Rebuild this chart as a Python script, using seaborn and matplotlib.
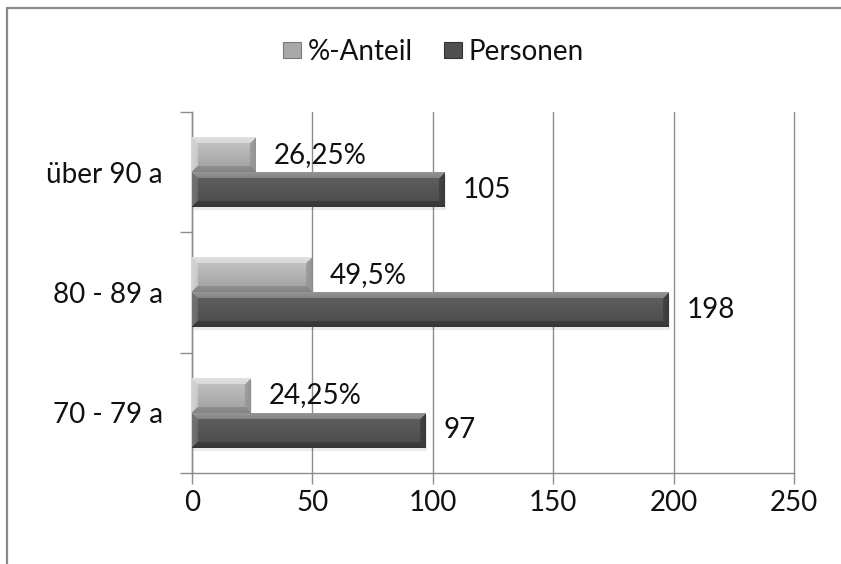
import numpy as np
import pandas as pd
import seaborn as sns
import matplotlib.pyplot as plt
from matplotlib.lines import Line2D
from matplotlib.patches import Patch

sns.set_theme(style="white")
plt.rcParams['font.family'] = ['Lato', 'DejaVu Sans']

# Data (top to bottom as displayed)
categories = ["über 90 a", "80 - 89 a", "70 - 79 a"]
series = ["%-Anteil", "Personen"]
anteil = [26.25, 49.5, 24.25]
personen = [105, 198, 97]
anteil_text = ["26,25%", "49,5%", "24,25%"]
personen_text = ["105", "198", "97"]
x_ticks = [0, 50, 100, 150, 200, 250]

df = pd.DataFrame({
    "Altersgruppe": categories * 2,
    "Wert": anteil + personen,
    "Reihe": [series[0]] * len(categories) + [series[1]] * len(categories),
})

W, H = 841, 564
fig = plt.figure(figsize=(W / 100, H / 100), dpi=100)
ax = fig.add_axes([192 / W, 1 - 473 / H, 602 / W, 361 / H])

base_colors = ["#a9a9a9", "#555555"]
sns.barplot(data=df, y="Altersgruppe", x="Wert", hue="Reihe",
            order=categories, hue_order=series, palette=base_colors,
            width=0.58, orient="h", saturation=1, legend=False, ax=ax,
            zorder=2, edgecolor="none")

ax.set_xlim(0, 250)
ax.set_ylim(2.5, -0.5)

# chiselled bar shading
shades = [
    dict(face_top=0.78, face_bot=0.62, top=0.88, bottom=0.52, left=0.82, right=0.58),
    dict(face_top=0.38, face_bot=0.29, top=0.58, bottom=0.21, left=0.45, right=0.23),
]


def bevel(w, h, face_top, face_bot, top, bottom, left, right, b=6):
    yy, xx = np.mgrid[0:h, 0:w].astype(float)
    face = face_top + (face_bot - face_top) * yy / max(h - 1, 1)
    d = np.stack([yy, h - 1 - yy, xx, w - 1 - xx])
    k = d.argmin(0)
    m = d.min(0)
    edge = np.choose(k, [np.full_like(face, top), np.full_like(face, bottom),
                         np.full_like(face, left), np.full_like(face, right)])
    val = np.where(m < b, edge + (face - edge) * (m / b) * 0.35, face)
    return np.dstack([val, val, val])


fig.canvas.draw()
for container, sh in zip(ax.containers, shades):
    for patch in container.patches:
        x0, y0 = patch.get_x(), patch.get_y()
        x1, y1 = x0 + patch.get_width(), y0 + patch.get_height()
        p0 = ax.transData.transform((x0, y0))
        p1 = ax.transData.transform((x1, y1))
        wpx = max(int(round(abs(p1[0] - p0[0]))), 2)
        hpx = max(int(round(abs(p1[1] - p0[1]))), 2)
        img = bevel(wpx, hpx, **sh)
        # soft drop shadow
        ax.add_patch(plt.Rectangle((x0 + 0.5, y0 + 0.025), x1 - x0, y1 - y0,
                                   facecolor="#000000", alpha=0.08,
                                   edgecolor="none", zorder=1.5))
        ax.imshow(img, extent=(x0, x1, y1, y0), origin="upper",
                  aspect="auto", interpolation="bilinear", zorder=3)

ax.set_xlim(0, 250)
ax.set_ylim(2.5, -0.5)

ax.bar_label(ax.containers[0], labels=anteil_text, padding=13, fontsize=20,
             color="#111111")
ax.bar_label(ax.containers[1], labels=personen_text, padding=13, fontsize=20,
             color="#111111")

# axes styling
ax.set_xlabel("")
ax.set_ylabel("")
ax.set_xticks(x_ticks)
ax.set_xticklabels([str(t) for t in x_ticks])
ax.set_yticks(range(len(categories)))
ax.set_yticklabels(categories)
ax.set_yticks([-0.5, 0.5, 1.5, 2.5], minor=True)
ax.tick_params(axis="y", which="major", length=0, pad=21, labelsize=20,
               labelcolor="#111111")
ax.tick_params(axis="y", which="minor", length=9, width=1, color="#8c8c8c",
               left=True)
ax.tick_params(axis="x", length=8, width=1, color="#8c8c8c", pad=4,
               labelsize=20, labelcolor="#111111", bottom=True)
ax.xaxis.grid(True, color="#8c8c8c", linewidth=1)
ax.yaxis.grid(False)
for gl in ax.get_xgridlines():
    gl.set_clip_on(False)
ax.set_axisbelow(True)
for side in ["top", "right"]:
    ax.spines[side].set_visible(False)
for side in ["left", "bottom"]:
    ax.spines[side].set_color("#8c8c8c")
    ax.spines[side].set_linewidth(1)

# legend
handles = [Patch(facecolor="#a9a9a9", edgecolor="#7a7a7a", linewidth=0.8),
           Patch(facecolor="#4f4f4f", edgecolor="#333333", linewidth=0.8)]
fig.legend(handles, series, loc="center", bbox_to_anchor=(0.5155, 0.908),
           ncol=2, frameon=False, fontsize=20, handlelength=0.65,
           handleheight=0.55, handletextpad=0.25, columnspacing=1.1,
           labelcolor="#111111")

# outer frame
fig.add_artist(Line2D([7 / W, 1.0], [1 - 8 / H, 1 - 8 / H], color="#8a8a8a",
                      linewidth=1.6, transform=fig.transFigure))
fig.add_artist(Line2D([7 / W, 7 / W], [0.0, 1 - 8 / H], color="#8a8a8a",
                      linewidth=1.6, transform=fig.transFigure))

fig.savefig("out.png", dpi=100, facecolor="white")
